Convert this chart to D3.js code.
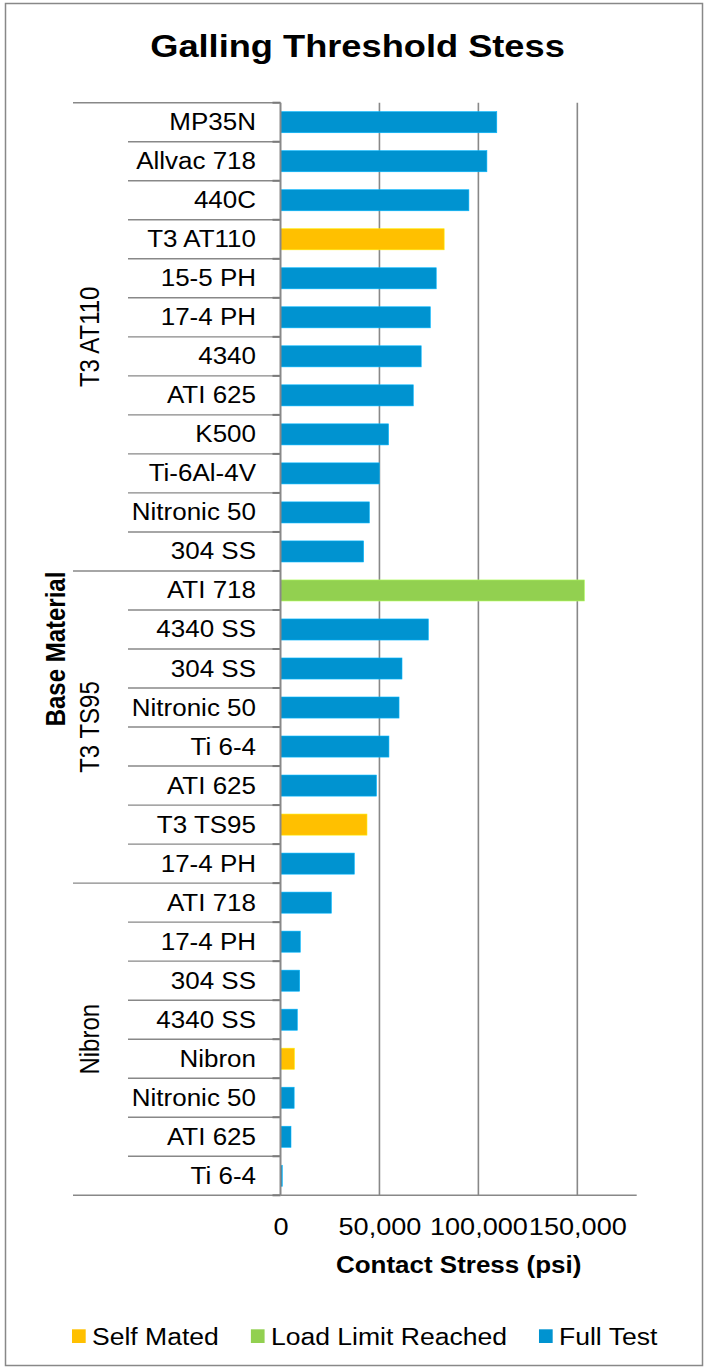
<!DOCTYPE html>
<html>
<head>
<meta charset="utf-8">
<script src="https://cdn.jsdelivr.net/npm/d3@7"></script>
<style>
  html, body { margin: 0; padding: 0; background: #fff; }
  svg { display: block; font-family: "Liberation Sans", Arial, sans-serif; }
</style>
</head>
<body>
<svg id="chart" width="707" height="1370"></svg>
<script>
// ---- data ----
const categories = ["MP35N","Allvac 718","440C","T3 AT110","15-5 PH","17-4 PH","4340","ATI 625","K500","Ti-6Al-4V","Nitronic 50","304 SS",
  "ATI 718","4340 SS","304 SS","Nitronic 50","Ti 6-4","ATI 625","T3 TS95","17-4 PH",
  "ATI 718","17-4 PH","304 SS","4340 SS","Nibron","Nitronic 50","ATI 625","Ti 6-4"];
const groupNames = ["T3 AT110","T3 TS95","Nibron"];
const groupSizes = [12, 8, 8];
const values = [109300,104300,95200,82700,78700,75700,71100,67100,54600,49900,44900,42000,
  153600,74700,61400,59900,54800,48500,43700,37300,
  25700,10000,9700,8500,7000,6900,5300,900];
const testTypes = ["Full Test","Full Test","Full Test","Self Mated","Full Test","Full Test","Full Test","Full Test","Full Test","Full Test","Full Test","Full Test",
  "Load Limit Reached","Full Test","Full Test","Full Test","Full Test","Full Test","Self Mated","Full Test",
  "Full Test","Full Test","Full Test","Full Test","Self Mated","Full Test","Full Test","Full Test"];
const legendNames = ["Self Mated","Load Limit Reached","Full Test"];
const legendColors = ["#FFC000","#92D050","#0093D0"];
const xTicks = [0, 50000, 100000, 150000];
const xMax = 180000;
const titleText = "Galling Threshold Stess";
const xTitle = "Contact Stress (psi)";
const yTitle = "Base Material";

// ---- layout ----
const SX = 1.13;            // horizontal stretch of the glyphs in the reference
const plotLeft = 280.5, plotRight = 636.7, plotTop = 102.7, plotBottom = 1195.3;
const grid = "#888888";
const color = d3.scaleOrdinal().domain(legendNames).range(legendColors);

const svg = d3.select("#chart");

// outer border
svg.append("rect").attr("x", 5.5).attr("y", 3.5).attr("width", 697).attr("height", 1362)
  .attr("fill", "none").attr("stroke", grid).attr("stroke-width", 1.5);

const x = d3.scaleLinear().domain([0, xMax]).range([plotLeft, plotRight]);
const y = d3.scaleBand().domain(d3.range(categories.length)).range([plotTop, plotBottom]).padding(0);
const barH = y.bandwidth() * 0.54;

function stretchText(sel, tx, ty, sx) {
  return sel.append("g").attr("transform", `translate(${tx},${ty}) scale(${sx},1)`).append("text");
}

// title
stretchText(svg, 357.5, 56.5, 1.15)
  .attr("text-anchor", "middle").attr("font-size", 31.5).attr("font-weight", "bold").attr("fill", "#000")
  .text(titleText);

// gridlines (skip 0, which is the axis)
svg.append("g").selectAll("line").data(xTicks.filter(d => d > 0)).join("line")
  .attr("x1", d => x(d)).attr("x2", d => x(d)).attr("y1", plotTop).attr("y2", plotBottom)
  .attr("stroke", grid).attr("stroke-width", 1.6);

// bars
svg.append("g").selectAll("rect").data(values).join("rect")
  .attr("x", x(0))
  .attr("y", (d, i) => y(i) + (y.bandwidth() - barH) / 2)
  .attr("width", d => x(d) - x(0))
  .attr("height", barH)
  .attr("fill", (d, i) => color(testTypes[i]))
  .attr("stroke", (d, i) => d3.color(color(testTypes[i])).brighter(0.6))
  .attr("stroke-width", 0.6);

// category separators and group boundaries
const groupStarts = [];
let acc = 0;
groupSizes.forEach(s => { groupStarts.push(acc); acc += s; });
const boundaries = d3.range(categories.length + 1);
svg.append("g").selectAll("line").data(boundaries).join("line")
  .attr("x1", i => (groupStarts.includes(i) || i === categories.length) ? 73 : 128)
  .attr("x2", plotLeft)
  .attr("y1", i => i < categories.length ? y(i) : plotBottom)
  .attr("y2", i => i < categories.length ? y(i) : plotBottom)
  .attr("stroke", grid).attr("stroke-width", 1.4);
// darker major tick stubs
svg.append("g").selectAll("line").data(boundaries).join("line")
  .attr("x1", plotLeft - 8).attr("x2", plotLeft)
  .attr("y1", i => i < categories.length ? y(i) : plotBottom)
  .attr("y2", i => i < categories.length ? y(i) : plotBottom)
  .attr("stroke", "#7a7a7a").attr("stroke-width", 2);

// axes lines
svg.append("line").attr("x1", plotLeft).attr("x2", plotLeft).attr("y1", plotTop).attr("y2", plotBottom)
  .attr("stroke", grid).attr("stroke-width", 2);
svg.append("line").attr("x1", plotLeft).attr("x2", plotRight).attr("y1", plotBottom).attr("y2", plotBottom)
  .attr("stroke", grid).attr("stroke-width", 1.6);

// category labels
categories.forEach((c, i) => {
  stretchText(svg, 256, y(i) + y.bandwidth() / 2 + 8, SX)
    .attr("text-anchor", "end").attr("font-size", 23).attr("fill", "#000").text(c);
});

// group labels (rotated)
groupNames.forEach((g, k) => {
  const y0 = y(groupStarts[k]);
  const y1 = groupStarts[k] + groupSizes[k] < categories.length ? y(groupStarts[k] + groupSizes[k]) : plotBottom;
  svg.append("g").attr("transform", `translate(99,${(y0 + y1) / 2}) scale(${SX},1) rotate(-90)`)
    .append("text").attr("text-anchor", "middle").attr("font-size", 24).attr("fill", "#000").text(g);
});

// y-axis title
svg.append("g").attr("transform", `translate(64.5,${(plotTop + plotBottom) / 2}) scale(${SX},1) rotate(-90)`)
  .append("text").attr("text-anchor", "middle").attr("font-size", 24).attr("font-weight", "bold").attr("fill", "#000").text(yTitle);

// x axis tick labels
const xAxis = d3.axisBottom(x).tickValues(xTicks).tickFormat(d3.format(",")).tickSize(0).tickPadding(0);
const gx = svg.append("g").attr("transform", `translate(0,${plotBottom})`).call(xAxis);
gx.select(".domain").remove();
gx.selectAll("text").attr("font-size", 24).attr("font-family", "Liberation Sans, Arial, sans-serif")
  .attr("fill", "#000").attr("y", 40).attr("dy", 0).attr("transform", `scale(${SX},1)`);

// x axis title
stretchText(svg, (plotLeft + plotRight) / 2, 1273, SX)
  .attr("text-anchor", "middle").attr("font-size", 23).attr("font-weight", "bold").attr("fill", "#000").text(xTitle);

// legend
const lg = svg.append("g");
let lx = 72;
legendNames.forEach((n, i) => {
  lg.append("rect").attr("x", lx).attr("y", 1329.3).attr("width", 13.7).attr("height", 13.7).attr("fill", legendColors[i]);
  const t = stretchText(lg, lx + 20, 1345, SX).attr("font-size", 23.5).attr("fill", "#000").text(n);
  const w = t.node().getComputedTextLength() * SX;
  lx = lx + 20 + w + 32;
});
</script>
</body>
</html>
